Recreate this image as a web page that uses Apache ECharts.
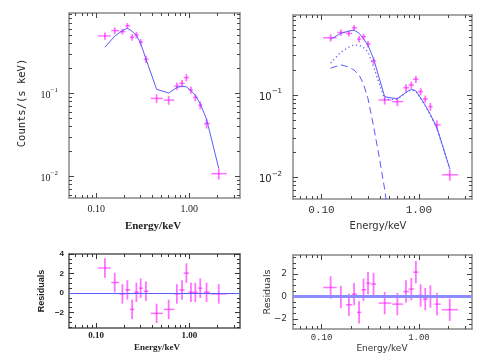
<!DOCTYPE html>
<html><head><meta charset="utf-8">
<script src="https://cdn.jsdelivr.net/npm/echarts@6/dist/echarts.min.js"></script>
<style>html,body{margin:0;padding:0;background:#fff}#c{width:480px;height:362px}</style>
</head><body><div id="c"></div><script>
// ---------- data ----------
const energy = [0.124,0.158,0.191,0.216,0.243,0.270,0.300,0.342,0.445,0.600,0.735,0.835,0.930,1.04,1.16,1.31,1.53,2.07];
const binLo  = [0.104,0.145,0.178,0.205,0.231,0.257,0.288,0.323,0.385,0.530,0.690,0.780,0.870,0.980,1.100,1.250,1.440,1.720];
const binHi  = [0.143,0.176,0.206,0.232,0.256,0.286,0.318,0.364,0.520,0.690,0.790,0.890,0.990,1.100,1.230,1.380,1.670,2.520];
const counts = [0.493,0.571,0.556,0.652,0.475,0.507,0.414,0.258,0.087,0.083,0.1225,0.132,0.155,0.110,0.0894,0.0723,0.0434,0.0108];
const countsErrFrac = [0.10,0.09,0.08,0.08,0.09,0.09,0.09,0.10,0.12,0.12,0.10,0.10,0.10,0.10,0.10,0.11,0.13,0.15];
// model, left panel
const modelA = [0.36,0.49,0.57,0.61,0.56,0.50,0.40,0.26,0.112,0.101,0.118,0.122,0.12,0.108,0.095,0.075,0.049,0.0125];
// model, right panel: total, component 1 (dotted), component 2 (dashed)
const modelB = [0.473,0.558,0.595,0.61,0.56,0.48,0.40,0.275,0.095,0.090,0.108,0.117,0.112,0.092,0.075,0.058,0.040,0.0128];
const compDot = [0.243,0.33,0.38,0.404,0.40,0.375,0.33,0.22,0.088,0.089,0.107,0.116,0.111,0.091,0.074,0.057,0.0395,0.0127];
const compDashE = [0.124,0.158,0.191,0.216,0.243,0.270,0.300,0.342,0.390,0.445,0.50];
const compDash  = [0.211,0.232,0.218,0.200,0.175,0.135,0.090,0.042,0.018,0.0072,0.0025];
// residuals
const residA = [2.56,1.07,-0.10,0.31,-1.69,0.07,0.49,0.17,-2.10,-1.69,-0.10,0.31,2.04,0.07,0.05,0.49,0.07,-0.10];
const residB = [0.80,-0.05,-0.74,0.21,-1.42,0.60,1.19,1.10,-0.59,-0.68,0.44,0.66,2.17,0.09,-0.23,0.00,-0.68,-1.18];
const residErr = 1;
// ticks
const xMajor = [0.1, 1];
const xMinor = [0.06,0.07,0.08,0.09,0.2,0.3,0.4,0.5,0.6,0.7,0.8,0.9,2,3];
const xTickLabels = ['0.10','1.00'];
const yMajor = [0.01, 0.1];
const yMinor = [0.006,0.007,0.008,0.009,0.02,0.03,0.04,0.05,0.06,0.07,0.08,0.09,0.2,0.3,0.4,0.5,0.6,0.7,0.8,0.9];
const yTickLabels = ['−2','−1'];
const rMajorA = [-2,0,2,4], rMajorB = [-2,0,2];
const rMinor = [-3.5,-3,-2.5,-1.5,-1,-0.5,0.5,1,1.5,2.5,3,3.5];
const rLabelsA = ['−2','0','2','4'], rLabelsB = ['−2','0','2'];

const E_MIN = 0.051, E_MAX = 3.5, C_MIN = 0.0055, C_MAX = 0.93;

// ---------- build ----------
const grids = [
  {left:69, top:13, width:171, height:185},
  {left:293, top:15, width:179, height:184},
  {left:69, top:254, width:171, height:74},
  {left:293, top:255, width:179, height:74}
];
const xAxes = [], yAxes = [];
function mkAxis(gi, dim, pos, c, ticks, len, showLine, label){
  const o = {gridIndex:gi, type:c.type, min:c.min, max:c.max, position:pos, silent:true,
    axisLine:{show:showLine, onZero:false, lineStyle:{color:c.frame, width:c.frameW}},
    axisTick:{show:true, inside:true, length:len, customValues:ticks, lineStyle:{color:c.tick, width:1}},
    axisLabel: label || {show:false},
    splitLine:{show:false}, minorTick:{show:false}, minorSplitLine:{show:false}};
  if (c.type === 'log') o.logBase = 10;
  return o;
}
function addAxes(gi, xc, yc){
  const xi = xAxes.length, yi = yAxes.length;
  xAxes.push(mkAxis(gi,'x','bottom',xc,xc.major,5,true,xc.label));
  xAxes.push(mkAxis(gi,'x','bottom',xc,xc.minor,3,false));
  xAxes.push(mkAxis(gi,'x','top',xc,xc.major,5,true));
  xAxes.push(mkAxis(gi,'x','top',xc,xc.minor,3,false));
  yAxes.push(mkAxis(gi,'y','left',yc,yc.major,5,true,yc.label));
  yAxes.push(mkAxis(gi,'y','left',yc,yc.minor,3,false));
  yAxes.push(mkAxis(gi,'y','right',yc,yc.major,5,true));
  yAxes.push(mkAxis(gi,'y','right',yc,yc.minor,3,false));
  return {xi, yi};
}
function pick(vals, labels){ return v => { let b=0; for (let i=1;i<vals.length;i++) if (Math.abs(vals[i]-v) < Math.abs(vals[b]-v)) b=i; return labels[b]; }; }
function pow10Label(v){ const i = pick(yMajor, yTickLabels)(v); return '{b|10}{s|' + i + '}'; }

const serifL = {fontFamily:'Liberation Serif', color:'#222'};
const monoR = {fontFamily:'Liberation Mono', color:'#333'};
const supRich = (ff, fs) => ({b:{fontFamily:ff, fontSize:fs, color:'#222', verticalAlign:'bottom', lineHeight:14}, s:{fontFamily:ff, fontSize:7, color:'#222', verticalAlign:'top', lineHeight:14, padding:[0,0,6,0]}});

const A = addAxes(0,
  {type:'log', min:E_MIN, max:E_MAX, major:xMajor, minor:xMinor, frame:'#8a8a8a', frameW:1.5, tick:'#444',
   label:{show:true, customValues:xMajor, formatter:pick(xMajor,xTickLabels), margin:6, fontSize:10, ...serifL}},
  {type:'log', min:C_MIN, max:C_MAX, major:yMajor, minor:yMinor, frame:'#8a8a8a', frameW:1.5, tick:'#444',
   label:{show:true, customValues:yMajor, formatter:pow10Label, margin:11, rich:supRich('Liberation Serif',10)}});
const B = addAxes(1,
  {type:'log', min:E_MIN, max:E_MAX, major:xMajor, minor:xMinor, frame:'#8a8a8a', frameW:1.5, tick:'#444',
   label:{show:true, customValues:xMajor, formatter:pick(xMajor,xTickLabels), margin:6, fontSize:11, ...monoR}},
  {type:'log', min:C_MIN, max:C_MAX, major:yMajor, minor:yMinor, frame:'#8a8a8a', frameW:1.5, tick:'#444',
   label:{show:true, customValues:yMajor, formatter:pow10Label, margin:11, rich:supRich('DejaVu Sans',10)}});
const C = addAxes(2,
  {type:'log', min:E_MIN, max:E_MAX, major:xMajor, minor:xMinor, frame:'#555', frameW:1.5, tick:'#333',
   label:{show:true, customValues:xMajor, formatter:pick(xMajor,xTickLabels), margin:3, fontSize:9, fontWeight:'bold', ...serifL}},
  {type:'value', min:-3.6, max:4, major:rMajorA, minor:rMinor, frame:'#555', frameW:1.5, tick:'#333',
   label:{show:true, customValues:rMajorA, formatter:pick(rMajorA,rLabelsA), margin:5, fontSize:8, fontWeight:'bold', fontFamily:'Liberation Sans', color:'#222'}});
const D = addAxes(3,
  {type:'log', min:E_MIN, max:E_MAX, major:xMajor, minor:xMinor, frame:'#888', frameW:1.5, tick:'#444',
   label:{show:true, customValues:xMajor, formatter:pick(xMajor,xTickLabels), margin:4, fontSize:9, ...monoR}},
  {type:'value', min:-2.9, max:3.7, major:rMajorB, minor:rMinor, frame:'#888', frameW:1.5, tick:'#444',
   label:{show:true, customValues:rMajorB, formatter:pick(rMajorB,rLabelsB), margin:6, fontSize:9, fontFamily:'DejaVu Sans', color:'#333'}});

const CROSS = 'rgba(255,0,255,0.55)';
function crossSeries(ax, ys, lo, hi){
  return {type:'custom', xAxisIndex:ax.xi, yAxisIndex:ax.yi, clip:true, silent:true,
    data: energy.map((e,i)=>[e, binLo[i], binHi[i], ys[i], lo(i), hi(i)]),
    encode:{x:[0,1,2], y:[3,4,5]},
    renderItem:(p, api)=>{
      const y = api.value(3), e = api.value(0);
      const a = api.coord([api.value(1), y]), b = api.coord([api.value(2), y]);
      const c = api.coord([e, api.value(4)]), d = api.coord([e, api.value(5)]);
      return {type:'group', children:[
        {type:'line', shape:{x1:a[0],y1:a[1],x2:b[0],y2:b[1]}, style:{stroke:CROSS, lineWidth:1.5}},
        {type:'line', shape:{x1:c[0],y1:c[1],x2:d[0],y2:d[1]}, style:{stroke:CROSS, lineWidth:1.8}}
      ]};
    }};
}
function lineSeries(ax, xs, ys, type, color, w){
  return {type:'line', xAxisIndex:ax.xi, yAxisIndex:ax.yi, showSymbol:false, silent:true, clip:true,
    data: xs.map((e,i)=>[e, ys[i]]), lineStyle:{color:color, width:w||1, type:type||'solid'}, z:3};
}
const BLUE = '#5b5bff';
const series = [
  crossSeries(A, counts, i=>counts[i]*(1-countsErrFrac[i]), i=>counts[i]*(1+countsErrFrac[i])),
  lineSeries(A, energy, modelA, 'solid', BLUE),
  crossSeries(B, counts, i=>counts[i]*(1-countsErrFrac[i]), i=>counts[i]*(1+countsErrFrac[i])),
  lineSeries(B, energy, modelB, 'solid', BLUE),
  lineSeries(B, energy, compDot, [1.2,2.8], BLUE, 1.3),
  lineSeries(B, compDashE, compDash, [7,4], BLUE),
  Object.assign(crossSeries(C, residA, i=>residA[i]-residErr, i=>residA[i]+residErr),
    {markLine:{silent:true, symbol:'none', label:{show:false}, lineStyle:{color:BLUE, width:1, type:'solid'}, data:[{yAxis:0}]}}),
  Object.assign(crossSeries(D, residB, i=>residB[i]-residErr, i=>residB[i]+residErr),
    {markLine:{silent:true, symbol:'none', label:{show:false}, lineStyle:{color:'#8c8cff', width:3, type:'solid'}, data:[{yAxis:0}]}})
];

const txt = (x,y,t,st,rot)=>({type:'text', x:x, y:y, rotation:rot||0, silent:true,
  style:Object.assign({text:t, align:'center', verticalAlign:'middle', fill:'#222'}, st)});
const graphic = [
  txt(22,103,'Counts/(s keV)',{fontFamily:'DejaVu Sans Mono', fontSize:10.5},Math.PI/2),
  txt(153,226,'Energy/keV',{fontFamily:'Liberation Serif', fontSize:11, fontWeight:'bold'}),
  txt(378,226,'Energy/keV',{fontFamily:'DejaVu Sans', fontSize:10, fill:'#333'}),
  txt(42,291,'Residuals',{fontFamily:'Liberation Sans', fontSize:9, fontWeight:'bold'},Math.PI/2),
  txt(157,348,'Energy/keV',{fontFamily:'Liberation Serif', fontSize:9, fontWeight:'bold'}),
  txt(268,292,'Residuals',{fontFamily:'DejaVu Sans', fontSize:9.5, fill:'#333'},Math.PI/2),
  txt(382,349,'Energy/keV',{fontFamily:'DejaVu Sans', fontSize:9, fill:'#333'})
];

const chart = echarts.init(document.getElementById('c'), null, {renderer:'canvas'});
chart.setOption({animation:false, backgroundColor:'#fff', grid:grids, xAxis:xAxes, yAxis:yAxes, series:series, graphic:graphic});
</script></body></html>
